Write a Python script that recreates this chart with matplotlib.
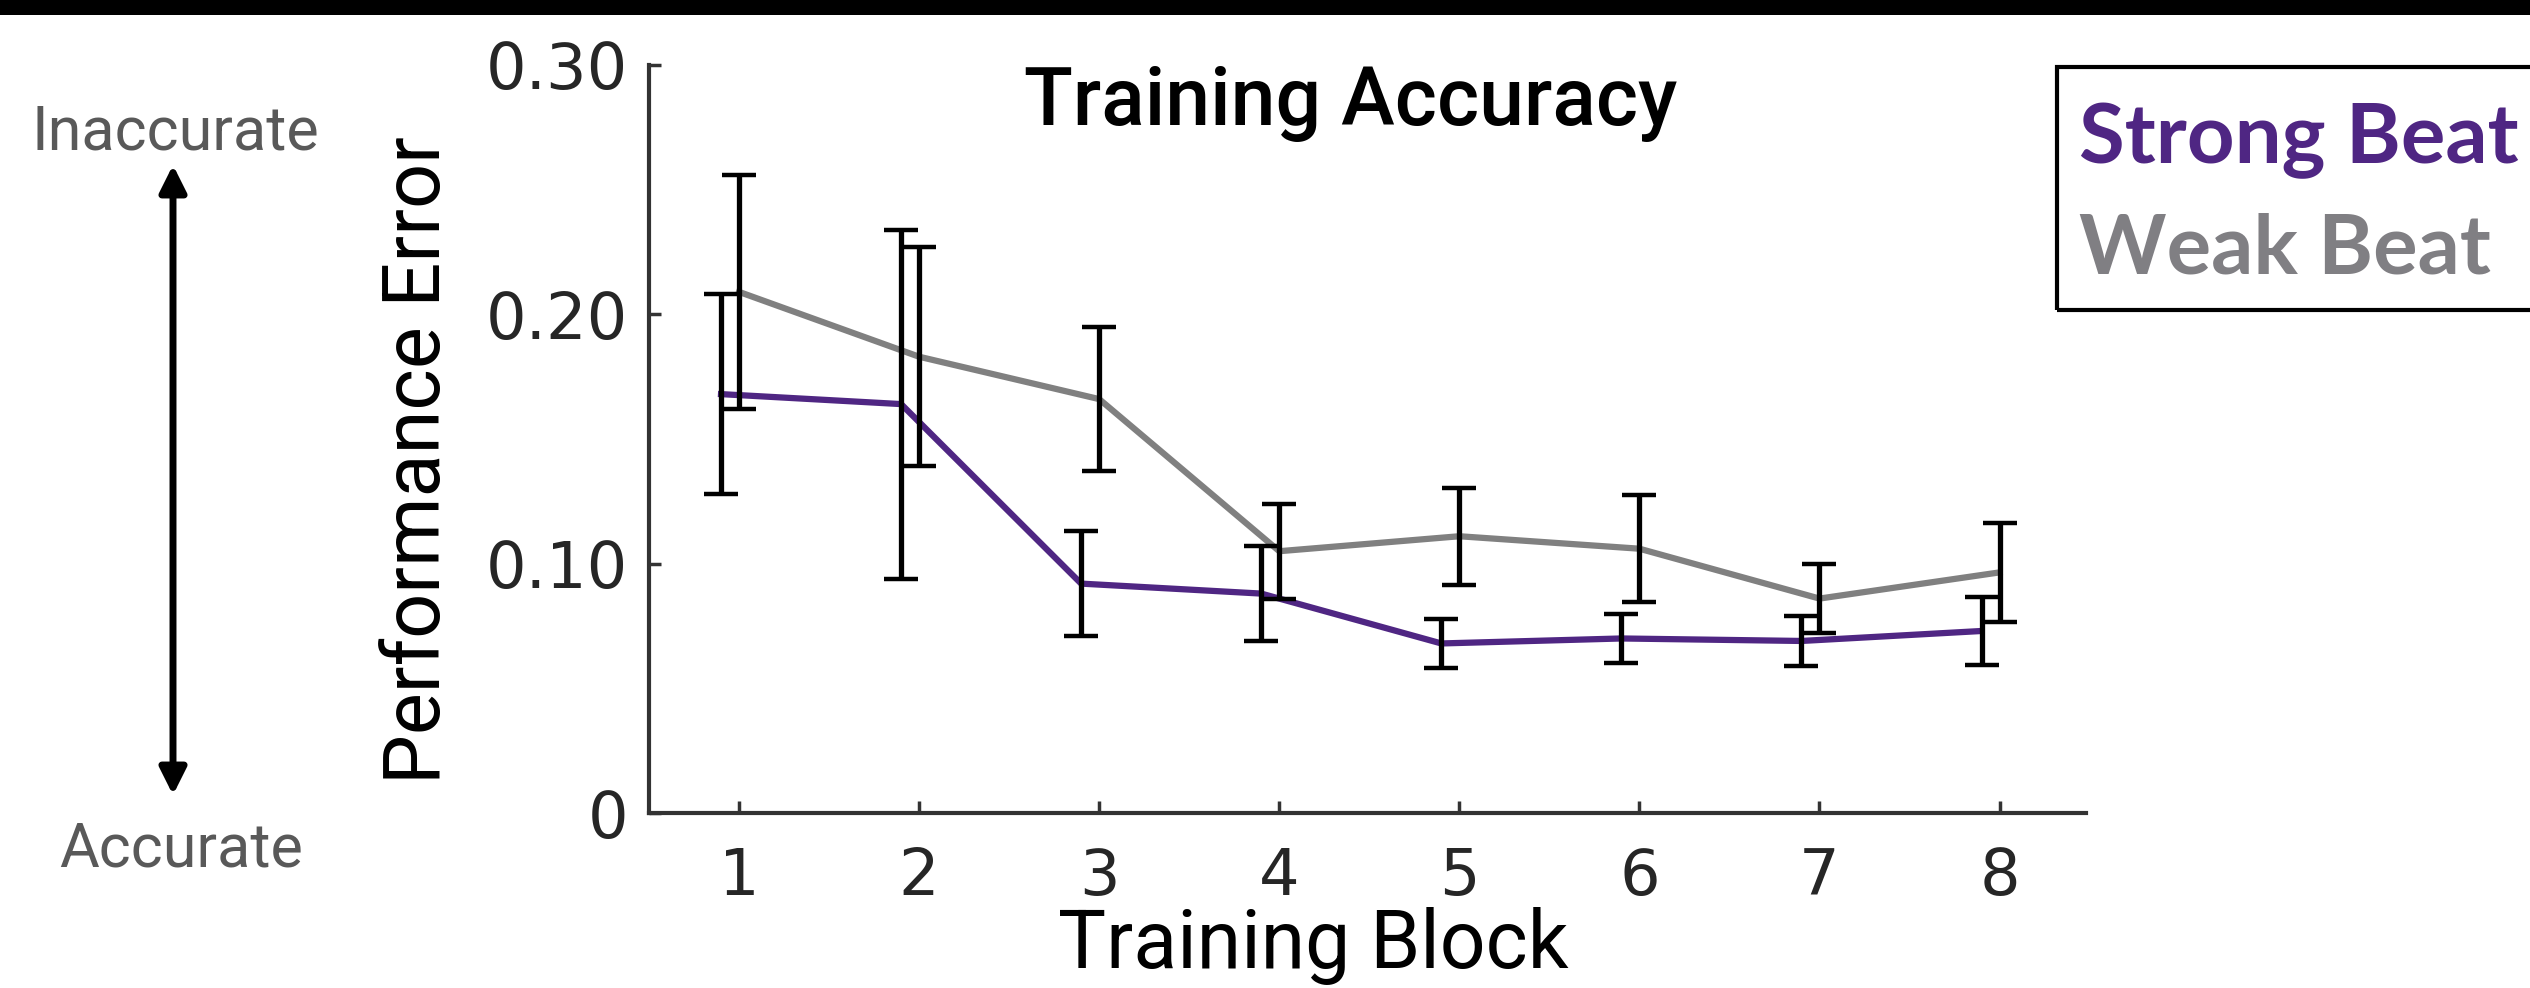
import numpy as np
import matplotlib
matplotlib.use("Agg")
import matplotlib.pyplot as plt
from matplotlib.patches import Rectangle, FancyArrowPatch, ArrowStyle

# data
blocks = [1, 2, 3, 4, 5, 6, 7, 8]
strong_mean = [0.168, 0.164, 0.092, 0.088, 0.068, 0.070, 0.069, 0.073]
strong_err = [0.040, 0.070, 0.021, 0.019, 0.010, 0.010, 0.010, 0.0135]
weak_mean = [0.209, 0.183, 0.166, 0.105, 0.111, 0.106, 0.086, 0.0965]
weak_err = [0.047, 0.044, 0.029, 0.019, 0.0195, 0.0215, 0.014, 0.0197]
yticks = [0, 0.10, 0.20, 0.30]
ytick_labels = ['0', '0.10', '0.20', '0.30']

purple = '#4F2683'
grey = '#808080'
W, H = 2530, 988

fig = plt.figure(figsize=(W / 100, H / 100), dpi=100)
ax = fig.add_axes([649 / W, 1 - 813 / H, (2086 - 649) / W, (813 - 65) / H])

x = np.array(blocks, dtype=float)
shift = 0.1  # strong beat drawn slightly left of the tick

ax.plot(x, weak_mean, color=grey, lw=4.5, zorder=2)
ax.plot(x - shift, strong_mean, color=purple, lw=4.5, zorder=3)
ax.errorbar(x, weak_mean, yerr=weak_err, fmt='none', ecolor='black',
            elinewidth=3.8, capsize=12, capthick=3.2, zorder=4)
ax.errorbar(x - shift, strong_mean, yerr=strong_err, fmt='none', ecolor='black',
            elinewidth=3.8, capsize=12, capthick=3.2, zorder=4)

ax.set_xlim(0.5, 8.48)
ax.set_ylim(0, 0.30)
ax.set_xticks(blocks)
ax.set_xticklabels([str(b) for b in blocks])
ax.set_yticks(yticks)
ax.set_yticklabels(ytick_labels)

for s in ['top', 'right']:
    ax.spines[s].set_visible(False)
for s in ['left', 'bottom']:
    ax.spines[s].set_linewidth(3)
    ax.spines[s].set_color('#333333')
ax.tick_params(axis='both', direction='in', length=8.5, width=2.5,
               color='#333333', labelcolor='#262626', labelsize=46)
ax.tick_params(axis='x', pad=24)
ax.tick_params(axis='y', pad=15)
for lab in ax.get_xticklabels() + ax.get_yticklabels():
    lab.set_family('DejaVu Sans')

ax.set_title('Training Accuracy', family='Roboto', fontweight='medium',
             fontsize=58, x=0.488, y=0.909, va='baseline')
ax.set_xlabel('Training Block', family='Roboto', fontsize=58)
ax.xaxis.label.set_va('baseline')
ax.xaxis.set_label_coords(0.462, -(968 - 813) / 748)
ax.set_ylabel('Performance Error', family='Roboto', fontsize=57)
ax.yaxis.label.set(rotation_mode='anchor', va='baseline', ha='center')
ax.yaxis.set_label_coords(-(649 - 440) / 1437, 0.472)

# black band along the top
fig.add_artist(Rectangle((0, 1 - 15 / H), 1, 15 / H, transform=fig.transFigure,
                         fc='black', ec='none'))

# accuracy arrow on the left
fig.text(175 / W, 1 - 149 / H, 'Inaccurate', family='Roboto', fontsize=44,
         color='#595959', ha='center', va='baseline')
fig.text(181 / W, 1 - 866 / H, 'Accurate', family='Roboto', fontsize=44,
         color='#595959', ha='center', va='baseline')
arrow = FancyArrowPatch((173 / W, 1 - 165 / H), (173 / W, 1 - 795 / H),
                        transform=fig.transFigure,
                        arrowstyle=ArrowStyle('<|-|>', head_length=16, head_width=8),
                        mutation_scale=1, lw=5, color='black',
                        shrinkA=0, shrinkB=0)
fig.add_artist(arrow)

# legend box, cut off at the right edge
fig.add_artist(Rectangle((2057 / W, 1 - 310 / H), 0.3, (310 - 67) / H,
                         transform=fig.transFigure, fill=False, lw=3, ec='black'))
fig.text(2079 / W, 1 - 163 / H, 'Strong Beat', family='Lato', fontweight='bold',
         fontsize=60, color=purple, va='baseline')
fig.text(2079 / W, 1 - 273 / H, 'Weak Beat', family='Lato', fontweight='bold',
         fontsize=60, color='#807F83', va='baseline')

fig.savefig('out.png', dpi=100)
